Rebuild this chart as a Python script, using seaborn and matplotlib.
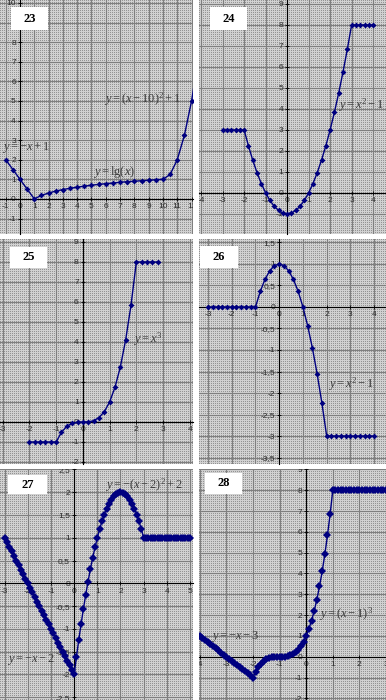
import numpy as np
import matplotlib
matplotlib.use('Agg')
import matplotlib.pyplot as plt
from matplotlib.patches import Rectangle
from matplotlib.ticker import FuncFormatter, MultipleLocator
import seaborn as sns

# --- data ---
x23 = [-1, -0.5, 0, 0.5, 1, 1.5, 2, 2.5, 3, 3.5, 4, 4.5, 5, 5.5, 6, 6.5, 7,
       7.5, 8, 8.5, 9, 9.5, 10, 10.5, 11, 11.5, 12, 12.5]
y23 = [2, 1.5, 1, 0.5, 0, 0.18, 0.3, 0.4, 0.48, 0.54, 0.6, 0.65, 0.7, 0.74,
       0.78, 0.81, 0.85, 0.88, 0.9, 0.93, 0.95, 0.98, 1.0, 1.25, 2, 3.25, 5, 7.25]

x24 = [-3, -2.8, -2.6, -2.4, -2.2, -2, -1.8, -1.6, -1.4, -1.2, -1, -0.8, -0.6,
       -0.4, -0.2, 0, 0.2, 0.4, 0.6, 0.8, 1, 1.2, 1.4, 1.6, 1.8, 2, 2.2, 2.4,
       2.6, 2.8, 3, 3.2, 3.4, 3.6, 3.8, 4]
y24 = [3, 3, 3, 3, 3, 3, 2.24, 1.56, 0.96, 0.44, 0, -0.36, -0.64, -0.84, -0.96,
       -1, -0.96, -0.84, -0.64, -0.36, 0, 0.44, 0.96, 1.56, 2.24, 3, 3.84, 4.76,
       5.76, 6.84, 8, 8, 8, 8, 8, 8]

x25 = [-2, -1.8, -1.6, -1.4, -1.2, -1, -0.8, -0.6, -0.4, -0.2, 0, 0.2, 0.4,
       0.6, 0.8, 1, 1.2, 1.4, 1.6, 1.8, 2, 2.2, 2.4, 2.6, 2.8]
y25 = [-1, -1, -1, -1, -1, -1, -0.51, -0.22, -0.06, -0.01, 0, 0.01, 0.06,
       0.22, 0.51, 1, 1.73, 2.74, 4.1, 5.83, 8, 8, 8, 8, 8]

x26 = [-3, -2.8, -2.6, -2.4, -2.2, -2, -1.8, -1.6, -1.4, -1.2, -1, -0.8, -0.6,
       -0.4, -0.2, 0, 0.2, 0.4, 0.6, 0.8, 1, 1.2, 1.4, 1.6, 1.8, 2, 2.2, 2.4,
       2.6, 2.8, 3, 3.2, 3.4, 3.6, 3.8, 4]
y26 = [0, 0, 0, 0, 0, 0, 0, 0, 0, 0, 0, 0.36, 0.64, 0.84, 0.96, 1, 0.96, 0.84,
       0.64, 0.36, 0, -0.44, -0.96, -1.56, -2.24, -3, -3, -3, -3, -3, -3, -3,
       -3, -3, -3, -3]

x27 = [-3.0, -2.9, -2.8, -2.7, -2.6, -2.5, -2.4, -2.3, -2.2, -2.1,
       -2.0, -1.9, -1.8, -1.7, -1.6, -1.5, -1.4, -1.3, -1.2, -1.1,
       -1.0, -0.9, -0.8, -0.7, -0.6, -0.5, -0.4, -0.3, -0.2, -0.1,
       0.0, 0.1, 0.2, 0.3, 0.4, 0.5, 0.6, 0.7, 0.8, 0.9,
       1.0, 1.1, 1.2, 1.3, 1.4, 1.5, 1.6, 1.7, 1.8, 1.9,
       2.0, 2.1, 2.2, 2.3, 2.4, 2.5, 2.6, 2.7, 2.8, 2.9,
       3.0, 3.1, 3.2, 3.3, 3.4, 3.5, 3.6, 3.7, 3.8, 3.9,
       4.0, 4.1, 4.2, 4.3, 4.4, 4.5, 4.6, 4.7, 4.8, 4.9, 5.0]
y27 = [1.0, 0.9, 0.8, 0.7, 0.6, 0.5, 0.4, 0.3, 0.2, 0.1,
       0.0, -0.1, -0.2, -0.3, -0.4, -0.5, -0.6, -0.7, -0.8, -0.9,
       -1.0, -1.1, -1.2, -1.3, -1.4, -1.5, -1.6, -1.7, -1.8, -1.9,
       -2.0, -1.61, -1.24, -0.89, -0.56, -0.25, 0.04, 0.31, 0.56, 0.79,
       1.0, 1.19, 1.36, 1.51, 1.64, 1.75, 1.84, 1.91, 1.96, 1.99,
       2.0, 1.99, 1.96, 1.91, 1.84, 1.75, 1.64, 1.51, 1.36, 1.19,
       1.0, 1.0, 1.0, 1.0, 1.0, 1.0, 1.0, 1.0, 1.0, 1.0,
       1.0, 1.0, 1.0, 1.0, 1.0, 1.0, 1.0, 1.0, 1.0, 1.0, 1.0]

x28 = [-4.0, -3.9, -3.8, -3.7, -3.6, -3.5, -3.4, -3.3, -3.2, -3.1,
       -3.0, -2.9, -2.8, -2.7, -2.6, -2.5, -2.4, -2.3, -2.2, -2.1,
       -2.0, -1.9, -1.8, -1.7, -1.6, -1.5, -1.4, -1.3, -1.2, -1.1,
       -1.0, -0.9, -0.8, -0.7, -0.6, -0.5, -0.4, -0.3, -0.2, -0.1,
       0.0, 0.1, 0.2, 0.3, 0.4, 0.5, 0.6, 0.7, 0.8, 0.9,
       1.0, 1.1, 1.2, 1.3, 1.4, 1.5, 1.6, 1.7, 1.8, 1.9,
       2.0, 2.1, 2.2, 2.3, 2.4, 2.5, 2.6, 2.7, 2.8, 2.9, 3.0]
y28 = [1.0, 0.9, 0.8, 0.7, 0.6, 0.5, 0.4, 0.3, 0.2, 0.1,
       0.0, -0.1, -0.2, -0.3, -0.4, -0.5, -0.6, -0.7, -0.8, -0.9,
       -1.0, -0.729, -0.512, -0.343, -0.216, -0.125, -0.064, -0.027, -0.008, -0.001,
       0.0, 0.001, 0.008, 0.027, 0.064, 0.125, 0.216, 0.343, 0.512, 0.729,
       1.0, 1.331, 1.728, 2.197, 2.744, 3.375, 4.096, 4.913, 5.832, 6.859,
       8.0, 8.0, 8.0, 8.0, 8.0, 8.0, 8.0, 8.0, 8.0, 8.0,
       8.0, 8.0, 8.0, 8.0, 8.0, 8.0, 8.0, 8.0, 8.0, 8.0, 8.0]

numbers = ['23', '24', '25', '26', '27', '28']
formulas = [
    [r'$y=(x-10)^2+1$', r'$y=-x+1$', r'$y=\lg(x)$'],
    [r'$y=x^2-1$'],
    [r'$y=x^3$'],
    [r'$y=x^2-1$'],
    [r'$y=-(x-2)^2+2$', r'$y=-x-2$'],
    [r'$y=-x-3$', r'$y=(x-1)^3$'],
]

# --- layout (pixels) ---
W, H = 386, 700
plt.rcParams['axes.unicode_minus'] = False
plt.rcParams['mathtext.fontset'] = 'custom'
plt.rcParams['mathtext.rm'] = 'Liberation Serif'
plt.rcParams['mathtext.it'] = 'Liberation Serif:italic'
plt.rcParams['font.family'] = ['Liberation Sans', 'DejaVu Sans']

panels = [(0, 0, 193, 234), (199, 0, 187, 234),
          (0, 239, 193, 225), (199, 239, 187, 225),
          (0, 469, 193, 231), (199, 469, 187, 231)]
limits = [((-1.4, 12.1), (-1.79, 10.15)), ((-4.1, 4.6), (-1.96, 9.19)),
          ((-3.1, 4.12), (-2.1, 9.15)), ((-3.38, 4.5), (-3.65, 1.58)),
          ((-3.2, 5.13), (-2.56, 2.51)), ((-4.03, 3.0), (-2.08, 9.02))]
ysteps = [1, 1, 1, 0.5, 0.5, 1]
boxes = [(11, 7, 37, 23), (11, 7, 37, 23), (10, 8, 37, 21),
         (1, 7, 38, 22), (8, 6, 39, 19), (6, 4, 37, 21)]
label_pos = [[(5.9, 5.1), (-1.25, 2.6), (5.1, 1.38)],
             [(2.37, 4.16)],
             [(1.87, 4.16)],
             [(2.07, -1.8)],
             [(1.34, 2.16), (-2.89, -1.68)],
             [(-3.58, 0.95), (0.48, 2.05)]]
series = [(x23, y23), (x24, y24), (x25, y25), (x26, y26), (x27, y27), (x28, y28)]
msizes = [3, 3, 3, 3, 4, 4]

navy = '#000080'
fig = plt.figure(figsize=(W / 100, H / 100), dpi=100)
fmt = FuncFormatter(lambda v, p: f'{v:g}'.replace('.', ','))

for i, (l, t, w, h) in enumerate(panels):
    ax = fig.add_axes([l / W, 1 - (t + h) / H, w / W, h / H])

    # dotted plot-area fill like the old spreadsheet pattern
    ii, jj = np.indices((h, w))
    dots = (ii % 2 == 0) & (jj % 2 == 0)
    tex = np.where(dots[..., None], 0.58, 0.82) * np.ones(3)
    fig.figimage(tex, xo=l, yo=H - t - h, zorder=-1)
    ax.patch.set_visible(False)

    x, y = series[i]
    sns.lineplot(x=x, y=y, ax=ax, color=navy, linewidth=1, marker='D',
                 markersize=msizes[i], markeredgewidth=0, estimator=None,
                 sort=False, zorder=3)

    (x0, x1), (y0, y1) = limits[i]
    ax.set_xlim(x0, x1)
    ax.set_ylim(y0, y1)
    ax.xaxis.set_major_locator(MultipleLocator(1))
    ax.yaxis.set_major_locator(MultipleLocator(ysteps[i]))
    ax.xaxis.set_major_formatter(fmt)
    ax.yaxis.set_major_formatter(fmt)
    ax.grid(True, color='#7f7f7f', linewidth=0.8)
    ax.set_axisbelow(True)
    ax.set_xlabel('')
    ax.set_ylabel('')

    for s in ['top', 'right']:
        ax.spines[s].set_visible(False)
    for s in ['left', 'bottom']:
        ax.spines[s].set_position('zero')
        ax.spines[s].set_color('black')
        ax.spines[s].set_linewidth(0.8)
    ax.tick_params(direction='inout', length=3, width=0.6, pad=1.5,
                   labelsize=6, labelcolor='#2a2a2a')
    for lab in ax.get_xticklabels() + ax.get_yticklabels():
        lab.set_clip_box(ax.bbox)
        lab.set_clip_on(True)

    for s, (tx, ty) in zip(formulas[i], label_pos[i]):
        ax.text(tx, ty, s, fontsize=9, color='#3c3c3c', ha='left',
                va='center', zorder=4, clip_on=True)

    bx, by, bw, bh = boxes[i]
    ax.add_patch(Rectangle((bx / w, 1 - (by + bh) / h), bw / w, bh / h,
                           transform=ax.transAxes, facecolor='white',
                           edgecolor='none', zorder=5))
    ax.text((bx + bw / 2) / w, 1 - (by + bh / 2) / h, numbers[i],
            transform=ax.transAxes, ha='center', va='center', fontsize=9,
            fontweight='bold', family='Liberation Serif', zorder=6)

fig.savefig('out.png', dpi=100)
